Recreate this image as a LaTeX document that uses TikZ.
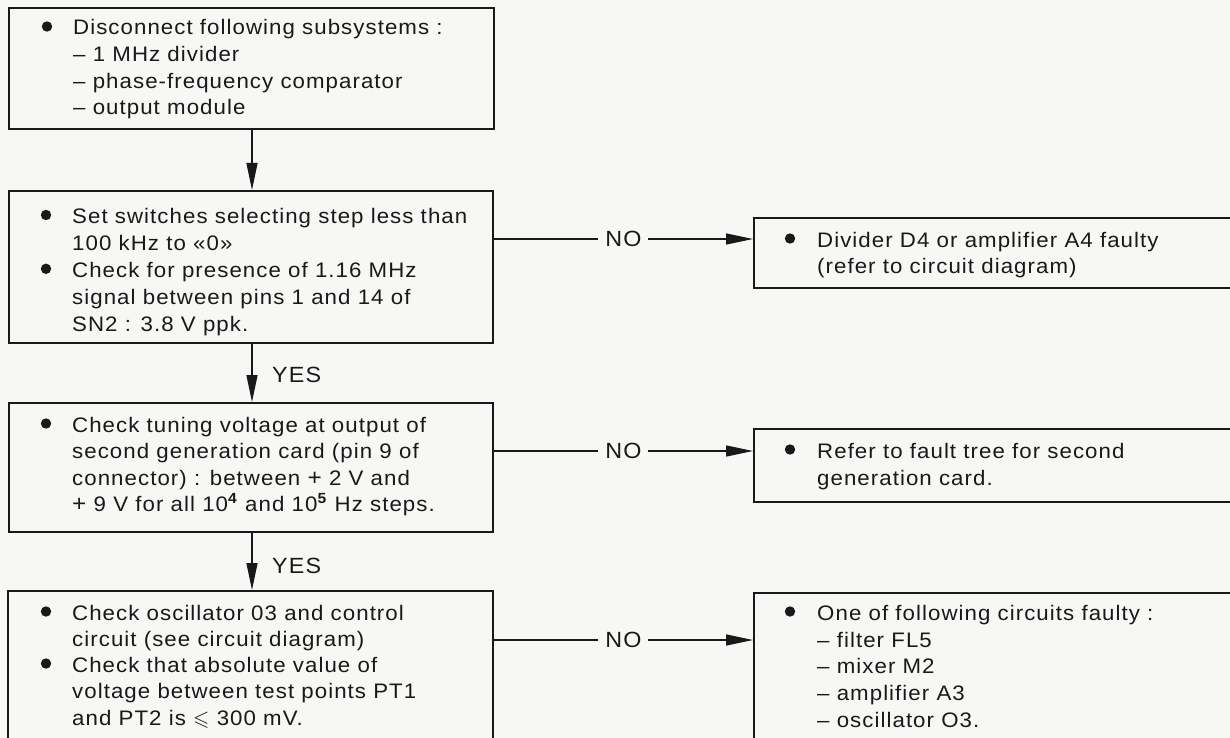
\documentclass[tikz,border=0pt]{standalone}
\usepackage{fontspec}
\usepackage{amssymb}
\setmainfont{Liberation Sans}[LetterSpace=5,FakeStretch=1.06]
\usetikzlibrary{arrows.meta}
\definecolor{ink}{RGB}{25,25,25}
\definecolor{paper}{RGB}{247,247,245}
\tikzset{
  box/.style={draw=ink, line width=1.8pt, anchor=north west, inner sep=0pt},
  txt/.style={anchor=base west, inner sep=0pt, text=ink, font=\fontsize{21}{26.7}\selectfont},
  lbl/.style={anchor=base west, inner sep=0pt, text=ink, font=\fontsize{22}{26}\selectfont},
  nolbl/.style={fill=paper, inner xsep=7pt, inner ysep=2pt, text=ink, font=\fontsize{22}{26}\selectfont},
  arr/.style={draw=ink, line width=1.3pt, -{Triangle[length=27pt,width=11pt]}},
  dot/.style={fill=ink},
}
\begin{document}
\begin{tikzpicture}[x=1pt,y=-1pt]
\useasboundingbox (0,0) rectangle (1230,738);
\clip (0,0) rectangle (1230,738);
\fill[paper] (0,0) rectangle (1230,738);

% boxes
\node[box, minimum width=485pt, minimum height=121pt] (b1) at (8,7) {};
\node[box, minimum width=484pt, minimum height=152pt] (b2) at (8,190) {};
\node[box, minimum width=484pt, minimum height=129pt] (b3) at (8,402) {};
\node[box, minimum width=485pt, minimum height=180pt] (b4) at (7,590) {};
\node[box, minimum width=490pt, minimum height=70pt] (r1) at (753,217) {};
\node[box, minimum width=490pt, minimum height=73pt] (r2) at (753,428) {};
\node[box, minimum width=490pt, minimum height=180pt] (r3) at (753,592) {};

% box 1 text
\fill[dot] (47,26.5) circle (5.2pt);
\node[txt] (t1a) at (73,35) {Disconnect following subsystems :};
\node[txt] (t1b) at (73,61.7) {– 1 MHz divider};
\node[txt] (t1c) at (73,88.4) {– phase-frequency comparator};
\node[txt] (t1d) at (73,115) {– output module};

% box 2 text
\fill[dot] (46,215) circle (5.2pt);
\fill[dot] (46,268.8) circle (5.2pt);
\node[txt] (t2a) at (72,223.5) {Set switches selecting step less than};
\node[txt] (t2b) at (72,250.4) {100 kHz to «0»};
\node[txt] (t2c) at (72,277.3) {Check for presence of 1.16 MHz};
\node[txt] (t2d) at (72,304.2) {signal between pins 1 and 14 of};
\node[txt] (t2e) at (72,331.1) {SN2 : 3.8 V ppk.};

% box 3 text
\fill[dot] (46,423.5) circle (5.2pt);
\node[txt] (t3a) at (72,432) {Check tuning voltage at output of};
\node[txt] (t3b) at (72,458.5) {second generation card (pin 9 of};
\node[txt] (t3c) at (72,485) {connector) : between {\fontsize{23}{26}\selectfont +} 2 V and};
\node[txt] (t3d) at (72,511.5) {{\fontsize{23}{26}\selectfont +} 9 V for all 10\textsuperscript{\textbf{4}} and 10\textsuperscript{\textbf{5}} Hz steps.};

% box 4 text
\fill[dot] (46,611.5) circle (5.2pt);
\fill[dot] (46,663.5) circle (5.2pt);
\node[txt] (t4a) at (72,620) {Check oscillator 03 and control};
\node[txt] (t4b) at (72,646) {circuit (see circuit diagram)};
\node[txt] (t4c) at (72,672) {Check that absolute value of};
\node[txt] (t4d) at (72,698.5) {voltage between test points PT1};
\node[txt] (t4e) at (72,725) {and PT2 is $\leqslant$ 300 mV.};

% right box 1
\fill[dot] (790,238.5) circle (5.2pt);
\node[txt] (s1a) at (817,247) {Divider D4 or amplifier A4 faulty};
\node[txt] (s1b) at (817,273) {(refer to circuit diagram)};

% right box 2
\fill[dot] (790,449.5) circle (5.2pt);
\node[txt] (s2a) at (817,458) {Refer to fault tree for second};
\node[txt] (s2b) at (817,485) {generation card.};

% right box 3
\fill[dot] (790,611.5) circle (5.2pt);
\node[txt] (s3a) at (817,620) {One of following circuits faulty :};
\node[txt] (s3b) at (817,647) {– filter FL5};
\node[txt] (s3c) at (817,673) {– mixer M2};
\node[txt] (s3d) at (817,700) {– amplifier A3};
\node[txt] (s3e) at (817,727) {– oscillator O3.};

% connectors
\coordinate (ax) at (252,0);
\coordinate (n1) at (0,239);
\coordinate (n2) at (0,451);
\coordinate (n3) at (0,640);
\draw[arr] (b1.south -| ax) -- (b2.north -| ax);
\draw[arr] (b2.south -| ax) -- (b3.north -| ax);
\draw[arr] (b3.south -| ax) -- (b4.north -| ax);
\node[lbl] (yes1) at (272,382) {YES};
\node[lbl] (yes2) at (272,573) {YES};
\draw[arr] (b2.east |- n1) -- node[nolbl] (no1) {NO} (r1.west |- n1);
\draw[arr] (b3.east |- n2) -- node[nolbl] (no2) {NO} (r2.west |- n2);
\draw[arr] (b4.east |- n3) -- node[nolbl] (no3) {NO} (r3.west |- n3);
\end{tikzpicture}
\end{document}
